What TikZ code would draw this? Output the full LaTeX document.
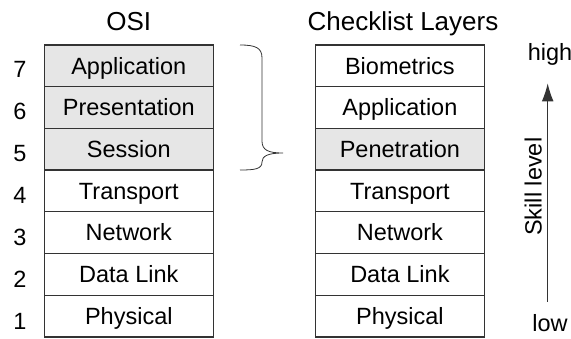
\documentclass[tikz,border=0pt]{standalone}
\usepackage{fontspec}
\setmainfont{Liberation Sans}
\usetikzlibrary{arrows.meta}
\definecolor{rowgray}{HTML}{E6E6E6}
\definecolor{edge}{HTML}{333333}
\begin{document}
\begin{tikzpicture}[x=1pt,y=-1pt,
  layer/.style={draw=edge,line width=1.3pt,minimum width=169pt,minimum height=41.7pt,
    inner sep=0pt,text height=20pt,text depth=3.4pt,font=\fontsize{23.5}{26}\selectfont},
  shaded/.style={layer,fill=rowgray},
  lbl/.style={font=\fontsize{23.5}{26}\selectfont,inner sep=0pt,anchor=base},
  title/.style={font=\fontsize{26}{30}\selectfont,inner sep=0pt,anchor=base}]
\useasboundingbox (0,0) rectangle (571,338);
% OSI stack
\node[title] (osititle) at (128.8,30) {OSI};
\foreach \name/\txt/\k/\st in {o7/Application/0/shaded,o6/Presentation/1/shaded,o5/Session/2/shaded,
    o4/Transport/3/layer,o3/Network/4/layer,o2/Data Link/5/layer,o1/Physical/6/layer}{
  \node[\st] (\name) at (128.8,{45+41.7*(\k+0.5)}) {\txt};
}
\foreach \n/\k in {7/0,6/1,5/2,4/3,3/4,2/5,1/6}{
  \node[lbl] (num\n) at (20,{77.3+42*\k}) {\n};
}
% Checklist stack
\node[title] (cltitle) at (403,30) {Checklist Layers};
\foreach \name/\txt/\k/\st in {c7/Biometrics/0/layer,c6/Application/1/layer,c5/Penetration/2/shaded,
    c4/Transport/3/layer,c3/Network/4/layer,c2/Data Link/5/layer,c1/Physical/6/layer}{
  \node[\st] (\name) at (399.9,{45+41.7*(\k+0.5)}) {\txt};
}
% brace grouping the upper three OSI layers
\coordinate (btop) at (240,45);
\coordinate (btip) at (283,153);
\coordinate (bbot) at (240,170);
\draw[edge,line width=0.8pt] (btop) .. controls (256,45) and (262,48) .. (262,58)
  -- (262,141) .. controls (262,150) and (268,153) .. (btip)
  .. controls (268,153) and (262,156) .. (262,162)
  .. controls (262,169) and (255,170) .. (bbot);
% skill level axis
\node[lbl] (high) at (550,60.7) {high};
\node[lbl] (low) at (550,331) {low};
\node[lbl,rotate=90] (skill) at (541.7,186.7) {Skill level};
\coordinate (axbot) at (547.7,301.7);
\coordinate (axtop) at (547.7,83.3);
\draw[edge,line width=1pt,-{Latex[length=18pt,width=11.7pt]}] (axbot) -- (axtop);
\end{tikzpicture}
\end{document}
